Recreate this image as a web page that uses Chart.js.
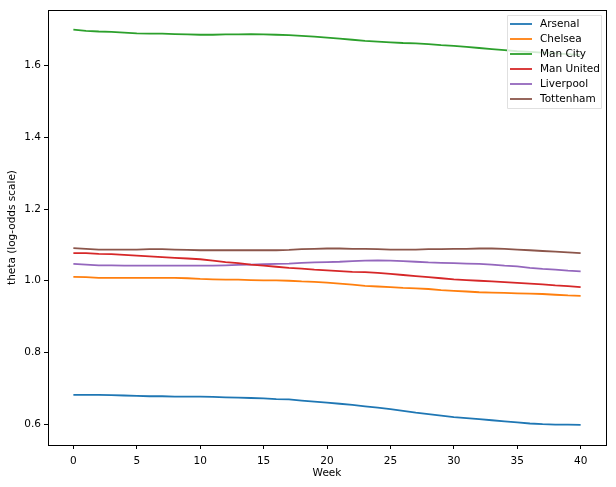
<!DOCTYPE html>
<html>
<head>
<meta charset="utf-8">
<script src="https://cdn.jsdelivr.net/npm/chart.js@4"></script>
<style>
  html, body { margin: 0; padding: 0; background: #fff; }
  #wrap { width: 616px; height: 487px; }
</style>
</head>
<body>
<div id="wrap"><canvas id="chart" width="616" height="487"></canvas></div>
<script>
const weeks = Array.from({length: 41}, (_, i) => i)

const arsenal = [0.682,0.682,0.682,0.681,0.680,0.679,0.678,0.678,0.677,0.677,0.677,0.676,0.675,0.674,0.673,0.672,0.670,0.669,0.666,0.663,0.660,0.657,0.654,0.650,0.646,0.642,0.637,0.632,0.628,0.624,0.620,0.617,0.614,0.611,0.608,0.605,0.602,0.600,0.599,0.599,0.598]
const chelsea = [1.011,1.010,1.008,1.008,1.008,1.008,1.008,1.008,1.008,1.007,1.005,1.004,1.003,1.003,1.002,1.001,1.001,1.000,0.998,0.997,0.995,0.992,0.989,0.986,0.984,0.982,0.980,0.979,0.977,0.974,0.972,0.970,0.968,0.967,0.966,0.965,0.964,0.963,0.961,0.959,0.958]
const manCity = [1.700,1.697,1.695,1.694,1.692,1.690,1.689,1.689,1.688,1.687,1.686,1.686,1.687,1.687,1.688,1.687,1.686,1.685,1.683,1.681,1.678,1.675,1.672,1.669,1.667,1.665,1.663,1.662,1.660,1.657,1.655,1.652,1.649,1.646,1.643,1.640,1.638,1.636,1.634,1.632,1.630]
const manUnited = [1.077,1.077,1.075,1.074,1.072,1.070,1.068,1.066,1.064,1.062,1.060,1.056,1.052,1.049,1.045,1.042,1.039,1.036,1.034,1.031,1.029,1.027,1.025,1.024,1.022,1.019,1.016,1.013,1.010,1.007,1.004,1.002,1.000,0.998,0.996,0.994,0.992,0.990,0.987,0.985,0.982]
const liverpool = [1.047,1.045,1.043,1.043,1.042,1.042,1.042,1.042,1.042,1.042,1.042,1.042,1.043,1.044,1.045,1.046,1.047,1.048,1.050,1.051,1.052,1.053,1.055,1.056,1.057,1.056,1.055,1.053,1.051,1.050,1.049,1.048,1.047,1.045,1.042,1.040,1.036,1.033,1.031,1.028,1.026]
const tottenham = [1.091,1.089,1.087,1.087,1.087,1.087,1.088,1.088,1.087,1.086,1.085,1.085,1.085,1.085,1.085,1.085,1.085,1.086,1.088,1.089,1.090,1.090,1.089,1.089,1.088,1.087,1.087,1.087,1.088,1.088,1.089,1.089,1.090,1.090,1.089,1.087,1.085,1.083,1.081,1.079,1.077]

const teams = ['Arsenal', 'Chelsea', 'Man City', 'Man United', 'Liverpool', 'Tottenham']
const series = [arsenal, chelsea, manCity, manUnited, liverpool, tottenham]
const colors = ['#1f77b4', '#ff7f0e', '#2ca02c', '#d62728', '#9467bd', '#8c564b']

const xTicks = [0, 5, 10, 15, 20, 25, 30, 35, 40]
const yTicks = [0.6, 0.8, 1.0, 1.2, 1.4, 1.6]

const FONT = "'DejaVu Sans', sans-serif"
const FSIZE = 10.5

// box round the plot area plus a matplotlib style legend in the upper right
const frameAndLegend = {
    id: 'frameAndLegend',
    afterDraw: (chart) => {
        const ctx = chart.ctx
        const a = chart.chartArea
        ctx.save()
        ctx.strokeStyle = '#000'
        ctx.lineWidth = 1
        ctx.strokeRect(Math.round(a.left) + 0.5, Math.round(a.top) + 0.5, Math.round(a.right - a.left), Math.round(a.bottom - a.top))

        const bx = 507, by = 15, bw = 94, bh = 93
        ctx.fillStyle = 'rgba(255,255,255,0.8)'
        ctx.strokeStyle = '#e0e0e0'
        ctx.beginPath()
        ctx.rect(bx + 0.5, by + 0.5, bw, bh)
        ctx.fill()
        ctx.stroke()

        ctx.font = FSIZE + 'px ' + FONT
        ctx.textBaseline = 'middle'
        ctx.textAlign = 'left'
        chart.data.datasets.forEach((ds, i) => {
            const y = by + 9 + i * 15
            ctx.strokeStyle = ds.borderColor
            ctx.lineWidth = 1.8
            ctx.beginPath()
            ctx.moveTo(bx + 3, y)
            ctx.lineTo(bx + 25, y)
            ctx.stroke()
            ctx.fillStyle = '#000'
            ctx.fillText(ds.label, bx + 33, y)
        })
        ctx.restore()
    }
}

const ctx = document.getElementById('chart').getContext('2d')
new Chart(ctx, {
    type: 'line',
    data: {
        labels: weeks,
        datasets: teams.map((t, i) => ({
            label: t,
            data: weeks.map((w, j) => ({x: w, y: series[i][j]})),
            borderColor: colors[i],
            backgroundColor: colors[i],
            borderWidth: 1.8,
            pointRadius: 0,
            tension: 0,
            fill: false
        }))
    },
    options: {
        responsive: false,
        animation: false,
        layout: { padding: { top: 10, right: 10, left: 0, bottom: 0 } },
        plugins: {
            legend: { display: false },
            tooltip: { enabled: false }
        },
        scales: {
            x: {
                type: 'linear',
                min: -2,
                max: 42,
                afterBuildTicks: (s) => { s.ticks = xTicks.map(v => ({value: v})) },
                afterFit: (s) => { s.height = 42 },
                grid: { drawOnChartArea: false, tickLength: 4, color: '#000', drawTicks: true },
                border: { display: false },
                ticks: { color: '#000', font: { family: FONT, size: FSIZE }, padding: 6, maxRotation: 0 },
                title: { display: true, text: 'Week', color: '#000', font: { family: FONT, size: FSIZE }, padding: { top: 1, bottom: 7 } }
            },
            y: {
                type: 'linear',
                min: 0.542,
                max: 1.755,
                afterBuildTicks: (s) => { s.ticks = yTicks.map(v => ({value: v})) },
                afterFit: (s) => { s.width = 48 },
                grid: { drawOnChartArea: false, tickLength: 4, color: '#000', drawTicks: true },
                border: { display: false },
                ticks: { color: '#000', font: { family: FONT, size: FSIZE }, padding: 3, callback: (v) => v.toFixed(1) },
                title: { display: true, text: 'theta (log-odds scale)', color: '#000', font: { family: FONT, size: FSIZE }, padding: { top: 6, bottom: 0 } }
            }
        }
    },
    plugins: [frameAndLegend]
})
</script>
</body>
</html>
